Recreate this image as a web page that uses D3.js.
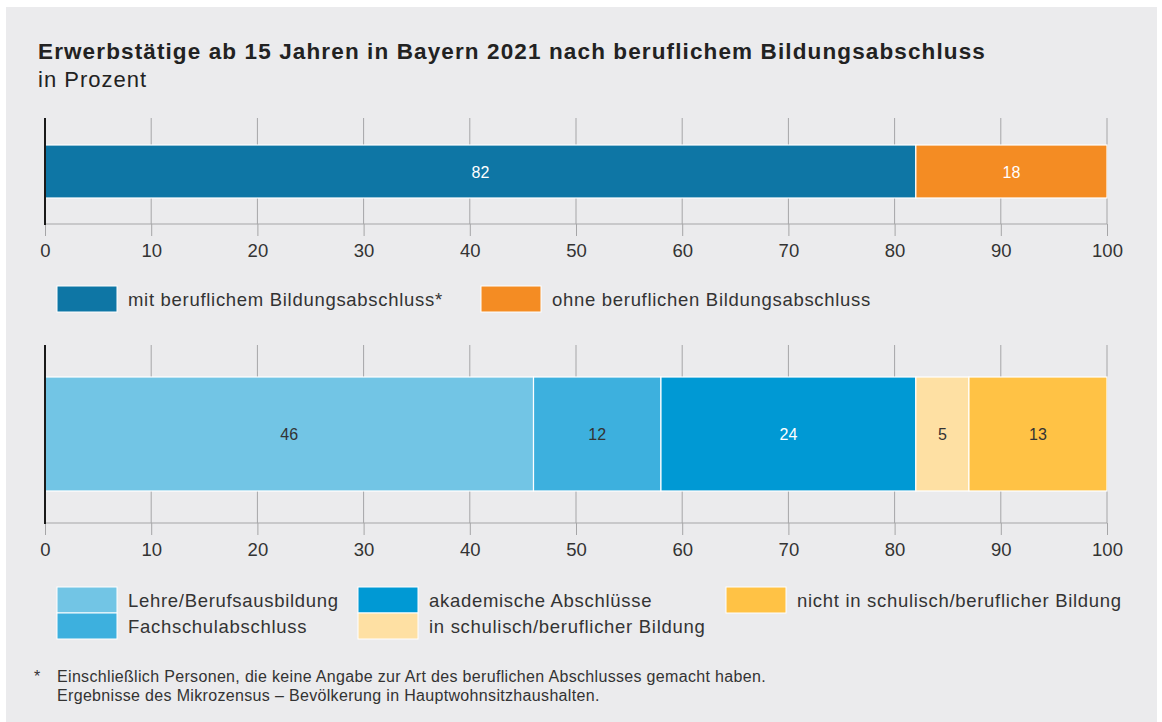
<!DOCTYPE html>
<html>
<head>
<meta charset="utf-8">
<script src="https://cdn.jsdelivr.net/npm/d3@7"></script>
<style>
  body { margin: 0; background: #fff; }
  svg { display: block; font-family: "Liberation Sans", Arial, sans-serif; }
</style>
</head>
<body>
<svg id="chart" width="1162" height="722"></svg>
<script>
// data
var cats1 = ["mit beruflichem Bildungsabschluss*", "ohne beruflichen Bildungsabschluss"];
var vals1 = [82, 18];
var colors1 = ["#0e76a5", "#f48c23"];
var labelCol1 = ["#fff", "#fff"];

var cats2 = ["Lehre/Berufsausbildung", "Fachschulabschluss", "akademische Abschlüsse",
             "in schulisch/beruflicher Bildung", "nicht in schulisch/beruflicher Bildung"];
var vals2 = [46, 12, 24, 5, 13];
var colors2 = ["#72c5e5", "#3db0de", "#0099d4", "#fee0a3", "#ffc245"];
var labelCol2 = ["#333", "#333", "#fff", "#333", "#333"];

var ticks = [0, 10, 20, 30, 40, 50, 60, 70, 80, 90, 100];

var svg = d3.select("#chart");

svg.append("rect").attr("x", 6).attr("y", 7).attr("width", 1151).attr("height", 715)
    .attr("fill", "#ebebed");

svg.append("text").attr("x", 38).attr("y", 58.5)
    .attr("font-size", 22.5).attr("font-weight", "bold").attr("fill", "#222")
    .attr("letter-spacing", 1.12)
    .text("Erwerbstätige ab 15 Jahren in Bayern 2021 nach beruflichem Bildungsabschluss");
svg.append("text").attr("x", 38).attr("y", 87)
    .attr("font-size", 22).attr("fill", "#222").attr("letter-spacing", 1)
    .text("in Prozent");

var x = d3.scaleLinear().domain([0, 100]).range([45, 1107]);

function stacked(vals, colors, labelCols, gridTop, barTop, barBottom, axisY) {
    var g = svg.append("g");
    // gridlines
    g.selectAll(".grid").data(ticks.slice(1)).enter().append("line")
        .attr("x1", function (d) { return x(d); }).attr("x2", function (d) { return x(d); })
        .attr("y1", gridTop).attr("y2", axisY)
        .attr("stroke", "#a5a5a7").attr("stroke-width", 1);

    // axis
    var ax = g.append("g").attr("transform", "translate(0," + axisY + ")")
        .call(d3.axisBottom(x).tickValues(ticks).tickSize(12).tickPadding(8));
    ax.select(".domain").attr("stroke", "#a5a5a7").attr("d", "M" + x(0) + ",0H" + x(100));
    ax.selectAll(".tick line").attr("stroke", "#a5a5a7");
    ax.selectAll(".tick text").attr("font-size", 18.5).attr("fill", "#333")
        .attr("font-family", "Liberation Sans, Arial, sans-serif");

    // segments
    var start = 0;
    var segs = vals.map(function (v, i) {
        var s = { x0: start, x1: start + v, v: v, i: i };
        start += v;
        return s;
    });
    g.selectAll(".seg").data(segs).enter().append("rect")
        .attr("x", function (d) { return x(d.x0); })
        .attr("y", barTop)
        .attr("width", function (d) { return x(d.x1) - x(d.x0); })
        .attr("height", barBottom - barTop)
        .attr("fill", function (d) { return colors[d.i]; })
        .attr("stroke", "#fff").attr("stroke-width", 1.2);

    g.selectAll(".lab").data(segs).enter().append("text")
        .attr("x", function (d) { return (x(d.x0) + x(d.x1)) / 2; })
        .attr("y", (barTop + barBottom) / 2 + 6)
        .attr("text-anchor", "middle")
        .attr("font-size", 16)
        .attr("fill", function (d) { return labelCols[d.i]; })
        .text(function (d) { return d.v; });

    // left zero line
    g.append("line").attr("x1", x(0)).attr("x2", x(0))
        .attr("y1", gridTop).attr("y2", axisY + 1)
        .attr("stroke", "#1a1a1a").attr("stroke-width", 2);
}

stacked(vals1, colors1, labelCol1, 118, 145, 198, 224);
stacked(vals2, colors2, labelCol2, 345, 377, 491, 523);

// legend 1
var leg1 = [{ x: 57, y: 286 }, { x: 481, y: 286 }];
cats1.forEach(function (c, i) {
    svg.append("rect").attr("x", leg1[i].x).attr("y", leg1[i].y).attr("width", 60).attr("height", 26)
        .attr("fill", colors1[i]).attr("stroke", "#fff").attr("stroke-width", 1);
    svg.append("text").attr("x", leg1[i].x + 71).attr("y", leg1[i].y + 19.5)
        .attr("font-size", 18.5).attr("letter-spacing", 0.7).attr("fill", "#333").text(c);
});

// legend 2
var leg2 = [{ x: 57, y: 587 }, { x: 57, y: 613 }, { x: 358, y: 587 }, { x: 358, y: 613 }, { x: 726, y: 587 }];
cats2.forEach(function (c, i) {
    svg.append("rect").attr("x", leg2[i].x).attr("y", leg2[i].y).attr("width", 60).attr("height", 26)
        .attr("fill", colors2[i]).attr("stroke", "#fff").attr("stroke-width", 1);
    svg.append("text").attr("x", leg2[i].x + 71).attr("y", leg2[i].y + 19.5)
        .attr("font-size", 18.5).attr("letter-spacing", 0.7).attr("fill", "#333").text(c);
});

// footnote
svg.append("text").attr("x", 34).attr("y", 682).attr("font-size", 16).attr("fill", "#333").text("*");
svg.append("text").attr("x", 57).attr("y", 682).attr("font-size", 16).attr("letter-spacing", 0.33).attr("fill", "#333")
    .text("Einschließlich Personen, die keine Angabe zur Art des beruflichen Abschlusses gemacht haben.");
svg.append("text").attr("x", 57).attr("y", 701).attr("font-size", 16).attr("letter-spacing", 0.33).attr("fill", "#333")
    .text("Ergebnisse des Mikrozensus – Bevölkerung in Hauptwohnsitzhaushalten.");
</script>
</body>
</html>
